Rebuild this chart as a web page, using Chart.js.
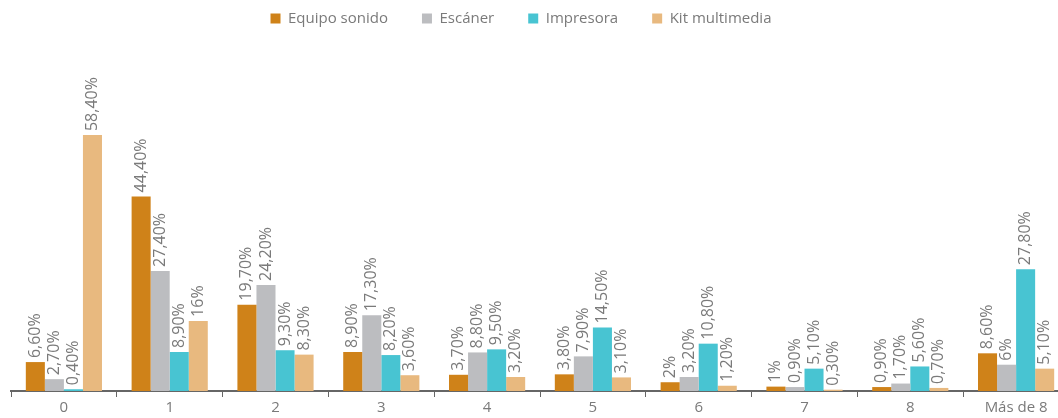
<!DOCTYPE html>
<html lang="es">
<head>
  <meta charset="UTF-8">
  <title>Equipos por hogar</title>
  <style>
    body {
      margin: 0;
      padding: 0;
      background: #fff;
      overflow: hidden;
    }
    .wrap {
      position: relative;
      width: 1070px;
      height: 418px;
    }
  </style>
</head>
<body>
<div class="wrap">
  <canvas id="myChart"></canvas>
</div>

<script src="https://cdn.jsdelivr.net/npm/chart.js"></script>
<script>
  const categories = ['0', '1', '2', '3', '4', '5', '6', '7', '8', 'Más de 8'];
  const equipoSonido = [6.6, 44.4, 19.7, 8.9, 3.7, 3.8, 2, 1, 0.9, 8.6];
  const escaner = [2.7, 27.4, 24.2, 17.3, 8.8, 7.9, 3.2, 0.9, 1.7, 6];
  const impresora = [0.4, 8.9, 9.3, 8.2, 9.5, 14.5, 10.8, 5.1, 5.6, 27.8];
  const kitMultimedia = [58.4, 16, 8.3, 3.6, 3.2, 3.1, 1.2, 0.3, 0.7, 5.1];

  const textColor = '#7a7a7a';
  const fontFamily = '"Open Sans", sans-serif';

  // 6.6 -> "6,60%", 16 -> "16%"
  function fmt(v) {
    if (Number.isInteger(v)) return v + '%';
    return v.toFixed(2).replace('.', ',') + '%';
  }

  // etiquetas verticales encima de cada barra
  const barLabels = {
    id: 'barLabels',
    afterDatasetsDraw(chart) {
      const ctx = chart.ctx;
      ctx.save();
      ctx.font = '16px ' + fontFamily;
      ctx.fillStyle = textColor;
      ctx.textAlign = 'left';
      ctx.textBaseline = 'middle';
      chart.data.datasets.forEach((ds, i) => {
        const meta = chart.getDatasetMeta(i);
        meta.data.forEach((bar, j) => {
          ctx.save();
          ctx.translate(bar.x, bar.y - 4);
          ctx.rotate(-Math.PI / 2);
          ctx.fillText(fmt(ds.data[j]), 0, 0);
          ctx.restore();
        });
      });
      ctx.restore();
    }
  };

  // la leyenda del original no está centrada, va un poco a la izquierda
  const legendShift = {
    id: 'legendShift',
    afterUpdate(chart) {
      chart.legend.left -= 19;
      chart.legend.right -= 19;
    }
  };

  const ctx = document.getElementById('myChart').getContext('2d');
  new Chart(ctx, {
    type: 'bar',
    data: {
      labels: categories,
      datasets: [
        { label: 'Equipo sonido', data: equipoSonido, backgroundColor: '#cf8219' },
        { label: 'Escáner', data: escaner, backgroundColor: '#bcbdc0' },
        { label: 'Impresora', data: impresora, backgroundColor: '#48c4d2' },
        { label: 'Kit multimedia', data: kitMultimedia, backgroundColor: '#e8b97f' }
      ]
    },
    options: {
      responsive: true,
      maintainAspectRatio: false,
      animation: false,
      datasets: {
        bar: { categoryPercentage: 0.72, barPercentage: 1 }
      },
      layout: {
        padding: { left: 11, right: 1, top: -23, bottom: -1 }
      },
      plugins: {
        legend: {
          position: 'top',
          labels: {
            boxWidth: 10,
            boxHeight: 10,
            padding: 34,
            color: textColor,
            font: { family: fontFamily, size: 15 }
          }
        },
        tooltip: { enabled: false }
      },
      scales: {
        x: {
          grid: {
            drawOnChartArea: false,
            tickLength: 6,
            color: '#666',
            offset: true
          },
          border: { color: '#666', width: 2 },
          ticks: {
            color: textColor,
            font: { family: fontFamily, size: 15 },
            padding: 2
          }
        },
        y: {
          display: false,
          min: 0,
          max: 81
        }
      }
    },
    plugins: [barLabels, legendShift]
  });
</script>
</body>
</html>
